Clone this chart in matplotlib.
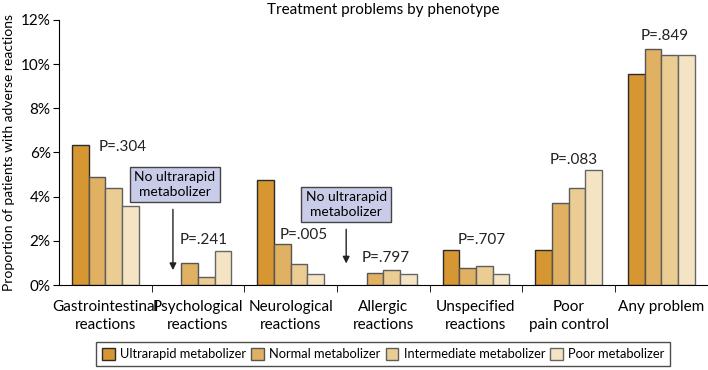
import numpy as np
import matplotlib.pyplot as plt

plt.rcParams["font.family"] = ["Lato", "DejaVu Sans"]

categories = ["Gastrointestinal\nreactions", "Psychological\nreactions", "Neurological\nreactions",
              "Allergic\nreactions", "Unspecified\nreactions", "Poor\npain control", "Any problem"]
phenotypes = ["Ultrarapid metabolizer", "Normal metabolizer",
              "Intermediate metabolizer", "Poor metabolizer"]

# percent of patients; None = no patients in that group
ultrarapid = [6.35, None, 4.75, None, 1.6, 1.6, 9.55]
normal = [4.9, 1.0, 1.85, 0.55, 0.77, 3.7, 10.7]
intermediate = [4.4, 0.35, 0.95, 0.7, 0.87, 4.4, 10.4]
poor = [3.6, 1.55, 0.52, 0.52, 0.52, 5.2, 10.4]

p_labels = ["P=.304", "P=.241", "P=.005", "P=.797", "P=.707", "P=.083", "P=.849"]
p_x = [0.19, 1.06, 2.14, 3.03, 4.06, 5.06, 6.04]
p_y = [6.25, 2.04, 2.26, 1.22, 2.04, 5.66, 11.28]

colors = ["#D69632", "#E0B162", "#EBCC93", "#F5E4C4"]
edges = ["#2b2b2b", "#555555", "#5e5e5e", "#666666"]

fig = plt.figure(figsize=(7.08, 3.70), dpi=100)
ax = fig.add_axes([0.0833, 0.2297, 0.916, 0.7163])

x = np.arange(len(categories))
w = 0.18
series = [ultrarapid, normal, intermediate, poor]
for i, vals in enumerate(series):
    v = np.array([np.nan if a is None else a for a in vals], dtype=float)
    ax.bar(x + (i - 1.5) * w, v, width=w, color=colors[i], edgecolor=edges[i],
           linewidth=1.0, label=phenotypes[i], zorder=2)

for lbl, px, py in zip(p_labels, p_x, p_y):
    ax.text(px, py, lbl, ha="center", va="center", fontsize=11, color="#222222")

box = dict(boxstyle="square,pad=0.3", facecolor="#C9CCE8", edgecolor="#444444", linewidth=1)
arrow = dict(arrowstyle="-|>", color="#222222", lw=1, mutation_scale=10)
ax.text(0.75, 4.55, "No ultrarapid\nmetabolizer", ha="center", va="center",
        fontsize=10, bbox=box, linespacing=1.3)
ax.annotate("", xy=(0.73, 0.55), xytext=(0.73, 3.55), arrowprops=arrow)
ax.text(2.6, 3.65, "No ultrarapid\nmetabolizer", ha="center", va="center",
        fontsize=10, bbox=box, linespacing=1.3)
ax.annotate("", xy=(2.6, 0.85), xytext=(2.6, 2.65), arrowprops=arrow)

ax.set_xlim(-0.5, 6.5)
ax.set_ylim(0, 12)
ax.set_yticks(np.arange(0, 13, 2))
ax.set_yticklabels([f"{t}%" for t in range(0, 13, 2)], fontsize=11)
ax.set_xticks(x)
ax.set_xticklabels(categories, fontsize=11, linespacing=1.3)
ax.set_xticks(np.arange(0.5, 6.5, 1), minor=True)
ax.tick_params(axis="x", which="major", length=0, pad=11)
ax.tick_params(axis="x", which="minor", length=5, direction="out")
ax.tick_params(axis="y", length=4, direction="out", pad=2)
ax.spines["top"].set_visible(False)
ax.spines["right"].set_visible(False)
ax.set_ylabel("Proportion of patients with adverse reactions", fontsize=10, labelpad=4)
ax.set_title("Treatment problems by phenotype", fontsize=11, pad=4)

leg = ax.legend(loc="lower center", bbox_to_anchor=(0.5, -0.33), ncol=4, fontsize=9.3,
                frameon=True, fancybox=False, edgecolor="#222222", handlelength=1.0,
                handleheight=1.0, handletextpad=0.4, columnspacing=0.4, borderpad=0.45)
leg.get_frame().set_linewidth(1)

fig.savefig("out.png", dpi=100)
